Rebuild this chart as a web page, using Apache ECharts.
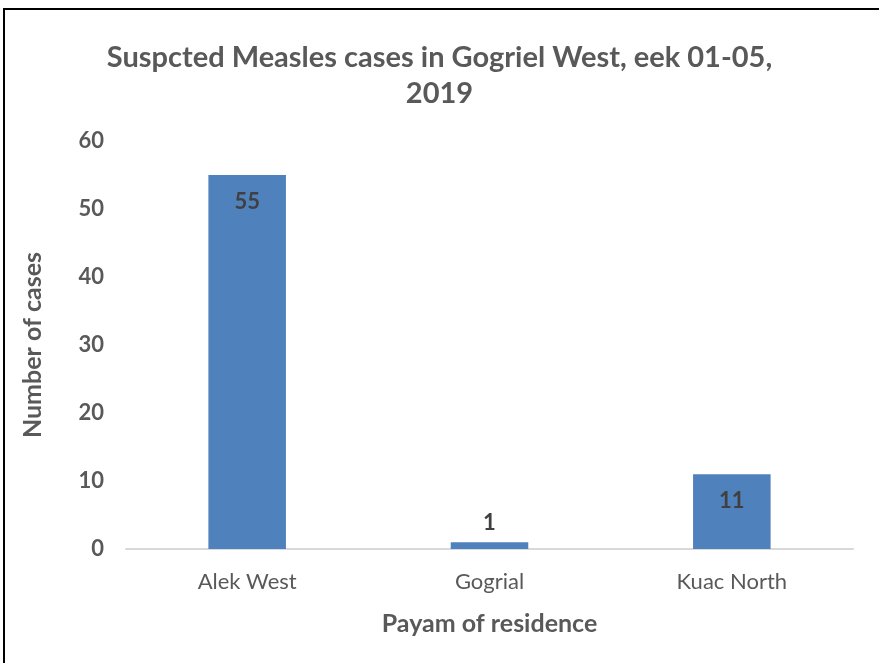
<!DOCTYPE html>
<html>
<head>
<meta charset="utf-8">
<script src="https://cdn.jsdelivr.net/npm/echarts@6/dist/echarts.min.js"></script>
<style>
  html, body { margin: 0; padding: 0; background: #fff; }
  #frame { position: absolute; left: 3px; top: 8px; width: 900px; height: 700px;
           border-top: 2px solid #000; border-left: 2px solid #000; }
  #main { position: absolute; left: 0; top: 0; width: 879px; height: 663px; }
</style>
</head>
<body>
<div id="frame"></div>
<div id="main"></div>
<script>
// 数据
var categories = ['Alek West', 'Gogrial', 'Kuac North'];
var cases = [55, 1, 11];
var yTicks = { min: 0, max: 60, interval: 10 };

var font = 'Lato, "Open Sans", sans-serif';

// 小柱子的标签放在柱子上方，其他放在柱子里面
var barData = cases.map(function (v) {
  return {
    value: v,
    label: v < 5 ? { position: 'top', distance: 8 } : { position: 'insideTop', distance: 16 }
  };
});

var myChart = echarts.init(document.getElementById('main'), null, { renderer: 'canvas' });
myChart.setOption({
  backgroundColor: 'transparent',
  animation: false,
  title: {
    text: 'Suspcted Measles cases in Gogriel West, eek 01-05,\n2019',
    left: 'center',
    top: 35,
    textStyle: {
      fontFamily: font,
      fontSize: 29,
      fontWeight: 'bold',
      color: '#595959',
      lineHeight: 36
    }
  },
  grid: { left: 126, right: 26, top: 141, bottom: 114 },
  xAxis: {
    type: 'category',
    data: categories,
    name: 'Payam of residence',
    nameLocation: 'middle',
    nameGap: 62,
    nameTextStyle: { fontFamily: font, fontSize: 25, fontWeight: 'bold', color: '#595959' },
    axisLine: { lineStyle: { color: '#d9d9d9', width: 2 } },
    axisTick: { show: false },
    axisLabel: { fontFamily: font, fontSize: 22, color: '#595959', margin: 22 }
  },
  yAxis: {
    type: 'value',
    min: yTicks.min,
    max: yTicks.max,
    interval: yTicks.interval,
    name: 'Number of cases',
    nameLocation: 'middle',
    nameGap: 81,
    nameTextStyle: { fontFamily: font, fontSize: 25, fontWeight: 'bold', color: '#595959' },
    axisLine: { show: false },
    axisTick: { show: false },
    splitLine: { show: false },
    axisLabel: { fontFamily: font, fontSize: 22, fontWeight: 'bold', color: '#595959', margin: 22 }
  },
  series: [{
    type: 'bar',
    data: barData,
    barWidth: '32%',
    itemStyle: { color: '#4f81bd' },
    label: {
      show: true,
      fontFamily: font,
      fontSize: 22,
      fontWeight: 'bold',
      color: '#404040'
    }
  }]
});
</script>
</body>
</html>
